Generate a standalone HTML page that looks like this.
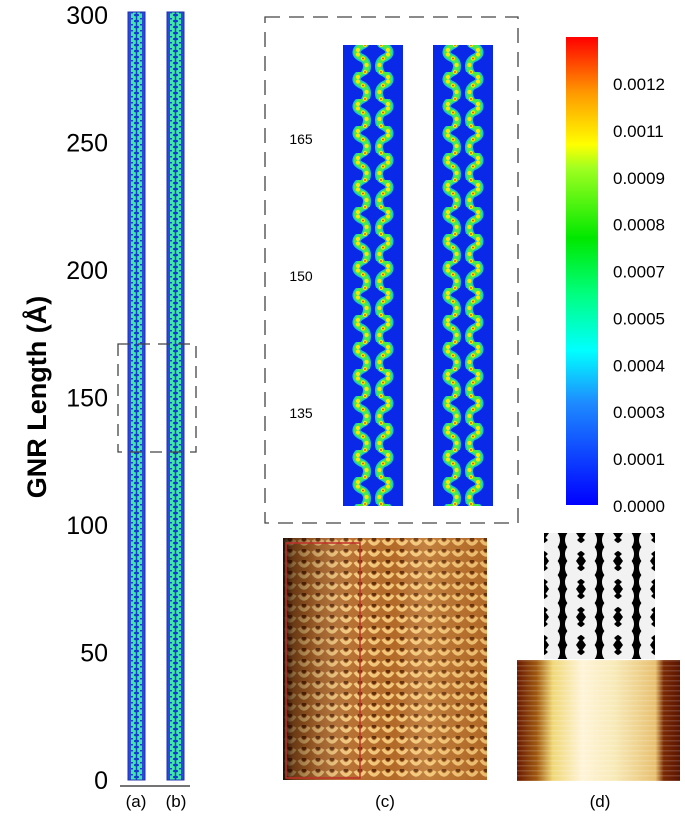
<!DOCTYPE html>
<html><head><meta charset="utf-8"><style>
body{margin:0;background:#fff;width:685px;height:826px;overflow:hidden;font-family:"Liberation Sans",Arial,sans-serif}
svg{position:absolute;left:0;top:0}
</style></head><body>
<svg id="fig" width="685" height="826" viewBox="0 0 685 826" xmlns="http://www.w3.org/2000/svg">
<defs>
 <pattern id="thin" x="0" y="0" width="17" height="6" patternUnits="userSpaceOnUse">
  <rect width="17" height="6" fill="#2a49d8"/>
  <rect x="3" y="0" width="11" height="6" fill="#3ee6a8"/>
  <ellipse cx="8.5" cy="3" rx="2.6" ry="1.3" fill="#1530d0"/>
  <rect x="7.8" y="0" width="1.4" height="6" fill="#1a3ad4"/>
  <circle cx="4" cy="0.5" r="1.1" fill="#1a3ad4"/><circle cx="13" cy="0.5" r="1.1" fill="#1a3ad4"/>
 </pattern>
 <pattern id="chain" x="0" y="0" width="60" height="27" patternUnits="userSpaceOnUse">
  <rect width="60" height="27" fill="#0a28e8"/>
  <g fill="none" stroke-linecap="round">
   <path id="lc" d="M22,-1 C11,4 11,10 20,13.5 C25,17 25,23 22,28" stroke="#19c8c8" stroke-width="8"/>
   <path d="M38,-1 C49,4 49,10 40,13.5 C35,17 35,23 38,28" stroke="#19c8c8" stroke-width="8"/>
   <path d="M22,-1 C11,4 11,10 20,13.5 C25,17 25,23 22,28" stroke="#4bea4b" stroke-width="5"/>
   <path d="M38,-1 C49,4 49,10 40,13.5 C35,17 35,23 38,28" stroke="#4bea4b" stroke-width="5"/>
  </g>
  <g fill="#ffe600">
   <circle cx="22" cy="0" r="2.1"/><circle cx="15" cy="5" r="2.1"/><circle cx="15" cy="9.5" r="2.1"/><circle cx="20" cy="13.5" r="2.1"/><circle cx="23.5" cy="20" r="2.1"/><circle cx="22" cy="27" r="2.1"/>
   <circle cx="38" cy="0" r="2.1"/><circle cx="45" cy="5" r="2.1"/><circle cx="45" cy="9.5" r="2.1"/><circle cx="40" cy="13.5" r="2.1"/><circle cx="36.5" cy="20" r="2.1"/><circle cx="38" cy="27" r="2.1"/>
  </g>
  <g fill="#e03a10">
   <circle cx="22" cy="0" r="0.9"/><circle cx="20" cy="13.5" r="0.9"/><circle cx="22" cy="27" r="0.9"/>
   <circle cx="38" cy="0" r="0.9"/><circle cx="40" cy="13.5" r="0.9"/><circle cx="38" cy="27" r="0.9"/>
  </g>
 </pattern>
 <linearGradient id="cbar" x1="0" y1="1" x2="0" y2="0">
  <stop offset="0" stop-color="#0000ff"/><stop offset="0.22" stop-color="#1e8cff"/>
  <stop offset="0.33" stop-color="#00ffff"/><stop offset="0.45" stop-color="#00ff80"/>
  <stop offset="0.57" stop-color="#00e800"/><stop offset="0.72" stop-color="#a0ff20"/>
  <stop offset="0.77" stop-color="#ffff00"/><stop offset="0.88" stop-color="#ff9a00"/>
  <stop offset="1" stop-color="#ff0000"/>
 </linearGradient>
 <pattern id="stm" x="0" y="0" width="14" height="11" patternUnits="userSpaceOnUse">
  <rect width="14" height="11" fill="#b36a28"/>
  <path d="M2,2 Q7,10 12,2" stroke="#f2c577" stroke-width="3.5" fill="none"/>
  <circle cx="7" cy="1" r="2.2" fill="#5e2a08"/>
 </pattern>
 <linearGradient id="stmshade" x1="0" y1="0" x2="1" y2="0">
  <stop offset="0" stop-color="#000" stop-opacity="0.85"/><stop offset="0.05" stop-color="#200800" stop-opacity="0.5"/>
  <stop offset="0.12" stop-color="#200800" stop-opacity="0.3"/><stop offset="0.35" stop-color="#fff" stop-opacity="0.05"/>
  <stop offset="0.55" stop-color="#fff" stop-opacity="0"/><stop offset="0.7" stop-color="#ffe0a0" stop-opacity="0.2"/>
  <stop offset="1" stop-color="#a06020" stop-opacity="0.1"/>
 </linearGradient>
 <pattern id="grey" x="0" y="0" width="37" height="28" patternUnits="userSpaceOnUse">
  <rect width="37" height="28" fill="#000"/>
  <path d="M5,0 Q15,7 5,14 Q15,21 5,28" stroke="#f2f2f2" stroke-width="12" fill="none"/>
  <path d="M32,0 Q22,7 32,14 Q22,21 32,28" stroke="#f2f2f2" stroke-width="12" fill="none"/>
  <rect x="17.5" y="0" width="2" height="28" fill="#000"/>
 </pattern>
 <linearGradient id="brown" x1="0" y1="0" x2="1" y2="0">
  <stop offset="0" stop-color="#6a1a02"/><stop offset="0.12" stop-color="#a05a10"/>
  <stop offset="0.22" stop-color="#f0d878"/><stop offset="0.4" stop-color="#fff4d8"/>
  <stop offset="0.6" stop-color="#f8eab8"/><stop offset="0.85" stop-color="#e8c070"/>
  <stop offset="0.9" stop-color="#7a2a04"/><stop offset="1" stop-color="#5a1402"/>
 </linearGradient>
 <pattern id="scan" x="0" y="0" width="163" height="5" patternUnits="userSpaceOnUse">
  <rect y="0" width="163" height="1.5" fill="#fff" opacity="0.15"/>
 </pattern>
</defs>

<g id="yaxis"></g>
<text transform="translate(46,397) rotate(-90)" text-anchor="middle" font-size="27" font-weight="bold">GNR Length (Å)</text>

<g transform="translate(128,12)"><rect x="0" y="0" width="17" height="768" fill="url(#thin)" stroke="#2030b0" stroke-width="1"/></g>
<g transform="translate(167,12)"><rect x="0" y="0" width="17" height="768" fill="url(#thin)" stroke="#2030b0" stroke-width="1"/></g>
<rect x="118" y="344" width="78" height="108" fill="none" stroke="#444" stroke-width="1.3" stroke-dasharray="12,8"/>
<line x1="120" y1="786" x2="190" y2="786" stroke="#222" stroke-width="1.2"/>
<text x="136" y="807" text-anchor="middle" font-size="17">(a)</text>
<text x="176" y="807" text-anchor="middle" font-size="17">(b)</text>

<rect x="265" y="17" width="253" height="506" fill="none" stroke="#444" stroke-width="1.3" stroke-dasharray="15,9"/>
<g transform="translate(343,45)"><rect x="0" y="0" width="60" height="461" fill="url(#chain)"/></g>
<g transform="translate(433,45)"><rect x="0" y="0" width="60" height="461" fill="url(#chain)"/></g>
<g id="insetTicks"></g>

<rect x="566" y="37" width="32" height="468" fill="url(#cbar)"/>
<g id="cbTicks"></g>

<g transform="translate(283,538)">
 <rect x="0" y="0" width="204" height="242" fill="url(#stm)"/>
 <rect x="0" y="0" width="204" height="242" fill="url(#stmshade)"/>
 <rect x="3" y="5" width="74" height="235" fill="none" stroke="#c0302a" stroke-width="1.5"/>
</g>
<text x="385" y="807" text-anchor="middle" font-size="17">(c)</text>

<g transform="translate(544,533)"><rect x="0" y="0" width="111" height="126" fill="url(#grey)"/></g>
<g transform="translate(517,660)">
 <rect x="0" y="0" width="163" height="121" fill="url(#brown)"/>
 <rect x="0" y="0" width="163" height="121" fill="url(#scan)"/>
</g>
<text x="600" y="807" text-anchor="middle" font-size="17">(d)</text>
</svg>
<script>
const yTicks = [0, 50, 100, 150, 200, 250, 300];
const insetTicks = [135, 150, 165];
const cbTicks = ["0.0000","0.0001","0.0003","0.0004","0.0005","0.0007","0.0008","0.0009","0.0011","0.0012"];
const NS = "http://www.w3.org/2000/svg";
function yScale(v){ return 780 + (15 - 780) * v / 300; }
function insetScale(v){ return 413 + (139 - 413) * (v - 135) / 30; }
function cbScale(i){ return 506 + (84 - 506) * i / (cbTicks.length - 1); }
const ya = document.getElementById('yaxis');
yTicks.forEach(v => {
  const t = document.createElementNS(NS, 'text');
  t.setAttribute('x', 108); t.setAttribute('y', yScale(v) + 9);
  t.setAttribute('text-anchor', 'end'); t.setAttribute('font-size', '25');
  t.textContent = v;
  
  
  ya.appendChild(t);
});
const ia = document.getElementById('insetTicks');
insetTicks.forEach(v => {
  const t = document.createElementNS(NS, 'text');
  t.setAttribute('x', 301); t.setAttribute('y', insetScale(v) + 5);
  t.setAttribute('text-anchor', 'middle'); t.setAttribute('font-size', '14');
  t.textContent = v;
  
  
  ia.appendChild(t);
});
const ca = document.getElementById('cbTicks');
cbTicks.forEach((s, i) => {
  const t = document.createElementNS(NS, 'text');
  t.setAttribute('x', 613); t.setAttribute('y', cbScale(i) + 6);
  t.setAttribute('font-size', '17');
  t.textContent = s;
  
  
  ca.appendChild(t);
});
</script>
</body></html>
